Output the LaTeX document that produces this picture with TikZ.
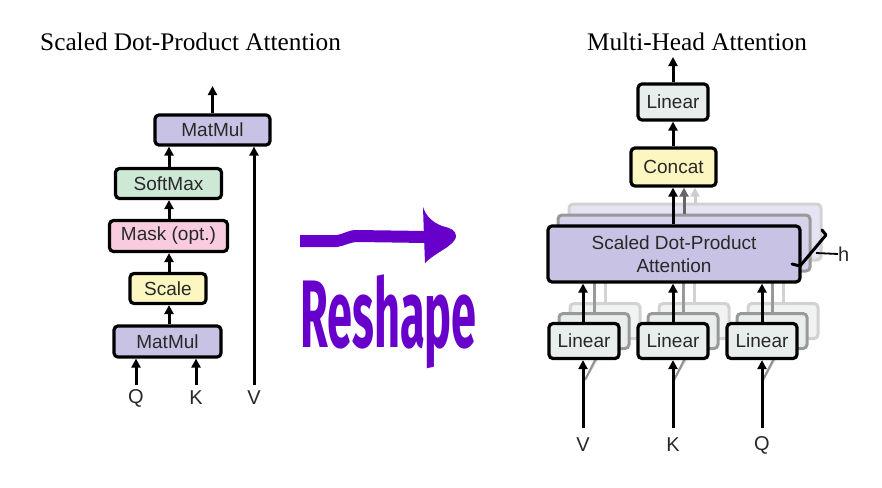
\documentclass[tikz,border=0pt]{standalone}
\usepackage{fontspec}
\setmainfont{Liberation Serif}
\newfontfamily\boxfont{Liberation Sans}
\newfontfamily\handfont{Fira Sans}
\usetikzlibrary{arrows.meta}
\definecolor{lav}{RGB}{200,194,228}
\definecolor{lavb}{RGB}{214,210,236}
\definecolor{lavc}{RGB}{230,228,244}
\definecolor{mint}{RGB}{205,232,212}
\definecolor{pinkish}{RGB}{248,204,222}
\definecolor{yel}{RGB}{252,246,192}
\definecolor{lingr}{RGB}{232,238,235}
\definecolor{lingrb}{RGB}{240,243,241}
\definecolor{purp}{RGB}{104,0,204}
\definecolor{txt}{RGB}{40,40,40}
\tikzset{
  blk/.style={draw=black, line width=3.2pt, rounded corners=4pt, inner sep=0pt,
    font=\boxfont\fontsize{19}{23}\selectfont, text=txt, align=center},
  shA/.style={draw=gray!80, line width=3pt, rounded corners=4pt, inner sep=0pt},
  shB/.style={draw=gray!35, line width=3pt, rounded corners=4pt, inner sep=0pt},
  arr/.style={line width=3pt, -{Triangle[length=9pt,width=9pt]}},
  lbl/.style={font=\boxfont\fontsize{20}{20}\selectfont, text=txt, inner sep=0pt},
  ttl/.style={font=\fontsize{25.3}{26}\selectfont, inner sep=0pt}
}
\begin{document}
\begin{tikzpicture}[x=1pt,y=-1pt]
\useasboundingbox (0,0) rectangle (882,487);
% titles
\node[ttl, anchor=base west] (t1) at (40,51) {Scaled Dot-Product Attention};
\node[ttl, anchor=base] (t2) at (697,51) {Multi-Head Attention};
% ---------- left diagram
\node[blk, fill=lav, minimum width=115pt, minimum height=30pt] (mm1) at (212.5,130) {MatMul};
\node[blk, fill=mint, minimum width=106pt, minimum height=30pt] (sm) at (168.5,183.5) {SoftMax};
\node[blk, fill=pinkish, minimum width=118pt, minimum height=31pt] (mask) at (168.5,236) {Mask (opt.)};
\node[blk, fill=yel, minimum width=76pt, minimum height=30pt] (scale) at (168,288.5) {Scale};
\node[blk, fill=lav, minimum width=107pt, minimum height=31pt] (mm2) at (167.5,341.5) {MatMul};
\coordinate (out1) at (212.5,86);
\node[lbl] (q1) at (136,398) {Q};
\node[lbl] (k1) at (196,398) {K};
\node[lbl] (v1) at (254,398) {V};
\coordinate (qin) at (136,385);
\coordinate (kin) at (196,385);
\coordinate (vin) at (254,385);
\draw[arr] (mm1.north) -- (out1);
\draw[arr] (sm.north -| 169,0) -- (mm1.south -| 169,0);
\draw[arr] (mask.north -| 169,0) -- (sm.south -| 169,0);
\draw[arr] (scale.north -| 169,0) -- (mask.south -| 169,0);
\draw[arr] (mm2.north -| 169,0) -- (scale.south -| 169,0);
\draw[arr] (qin) -- (qin |- mm2.south);
\draw[arr] (kin) -- (kin |- mm2.south);
\draw[arr] (vin) -- (vin |- mm1.south);
% ---------- reshape arrow
\fill[purp] (300,235) -- (337,235) .. controls (344,234) and (348,230) .. (356,230)
  -- (426,231) -- (426,243) -- (358,242) .. controls (350,242) and (344,246) .. (337,247) -- (300,247) -- cycle;
\fill[purp] (423,207) .. controls (426,216) and (432,222) .. (442,226)
  .. controls (450,228) and (456,230) .. (456,236)
  .. controls (456,242) and (446,248) .. (438,253)
  .. controls (432,257) and (428,260) .. (425,263) -- (424,237) -- cycle;
\node[anchor=base west, inner sep=0pt, text=purp] (resh) at (300,347)
  {\scalebox{0.47}[1]{\handfont\bfseries\fontsize{96}{96}\selectfont Reshape}};
% ---------- right diagram
% SDPA copies
\node[shB, fill=lavc, minimum width=252pt, minimum height=56pt] (sdB) at (695,232) {};
\node[shA, fill=lavb, minimum width=252pt, minimum height=56pt] (sdA) at (684,243) {};
% linear copies
\foreach \x/\n in {584/a,673/b,762/c}{
  \node[shB, fill=lingrb, minimum width=70pt, minimum height=35pt] (lB\n) at (\x+21,321) {};
  \node[shA, fill=lingr, minimum width=70pt, minimum height=35pt] (lA\n) at (\x+10,331) {};
  \draw[gray!35, line width=3pt] (lB\n.north) -- ++(0,-30);
  \draw[gray!80, line width=3pt] (lA\n.north) -- ++(0,-40);
  \draw[gray!40, line width=2pt] (\x+2,378) -- (\x+17,352);
  \draw[gray!85, line width=2pt] (\x+1,380) -- (\x+12,358);
}
\node[blk, fill=lav, minimum width=252pt, minimum height=56pt] (sdpa) at (674,254) {Scaled Dot-Product\\Attention};
\node[blk, fill=lingr, minimum width=70pt, minimum height=35pt] (la) at (584,341) {Linear};
\node[blk, fill=lingr, minimum width=70pt, minimum height=35pt] (lb) at (673,341) {Linear};
\node[blk, fill=lingr, minimum width=70pt, minimum height=35pt] (lc) at (762,341) {Linear};
\node[blk, fill=yel, minimum width=85pt, minimum height=38pt] (concat) at (673.5,167) {Concat};
\node[blk, fill=lingr, minimum width=70pt, minimum height=36pt] (lt) at (673,102) {Linear};
\coordinate (out2) at (673,57);
\draw[arr] (lt.north) -- (out2);
\draw[arr] (concat.north -| lt.north) -- (lt.south);
\draw[arr] (sdpa.north -| 673,0) -- (concat.south -| 673,0);
\draw[arr, gray!80!black] (sdA.north -| 684,0) -- (concat.south -| 684,0);
\draw[arr, gray!40] (sdB.north -| 695,0) -- (concat.south -| 695,0);
\draw[arr] (la.north -| 583,0) -- (sdpa.south -| 583,0);
\draw[arr] (lb.north) -- (sdpa.south -| lb.north);
\draw[arr] (lc.north -| 762,0) -- (sdpa.south -| 762,0);
\coordinate (vin2) at (583,428);
\coordinate (kin2) at (673,428);
\coordinate (qin2) at (762,428);
\draw[arr] (vin2) -- (vin2 |- la.south);
\draw[arr] (kin2) -- (kin2 |- lb.south);
\draw[arr] (qin2) -- (qin2 |- lc.south);
\node[lbl] (v2) at (583,445) {V};
\node[lbl] (k2) at (673,445) {K};
\node[lbl] (q2) at (762,445) {Q};
% h brace
\draw[line width=3pt, line cap=round, line join=round] (822,230) -- (826,235) -- (800,266) -- (792,264);
\coordinate (hb) at (816,253);
\node[lbl, anchor=west] (hl) at (838,254) {h};
\draw[line width=1.8pt] (hb) -- (hl.west);
\end{tikzpicture}
\end{document}
